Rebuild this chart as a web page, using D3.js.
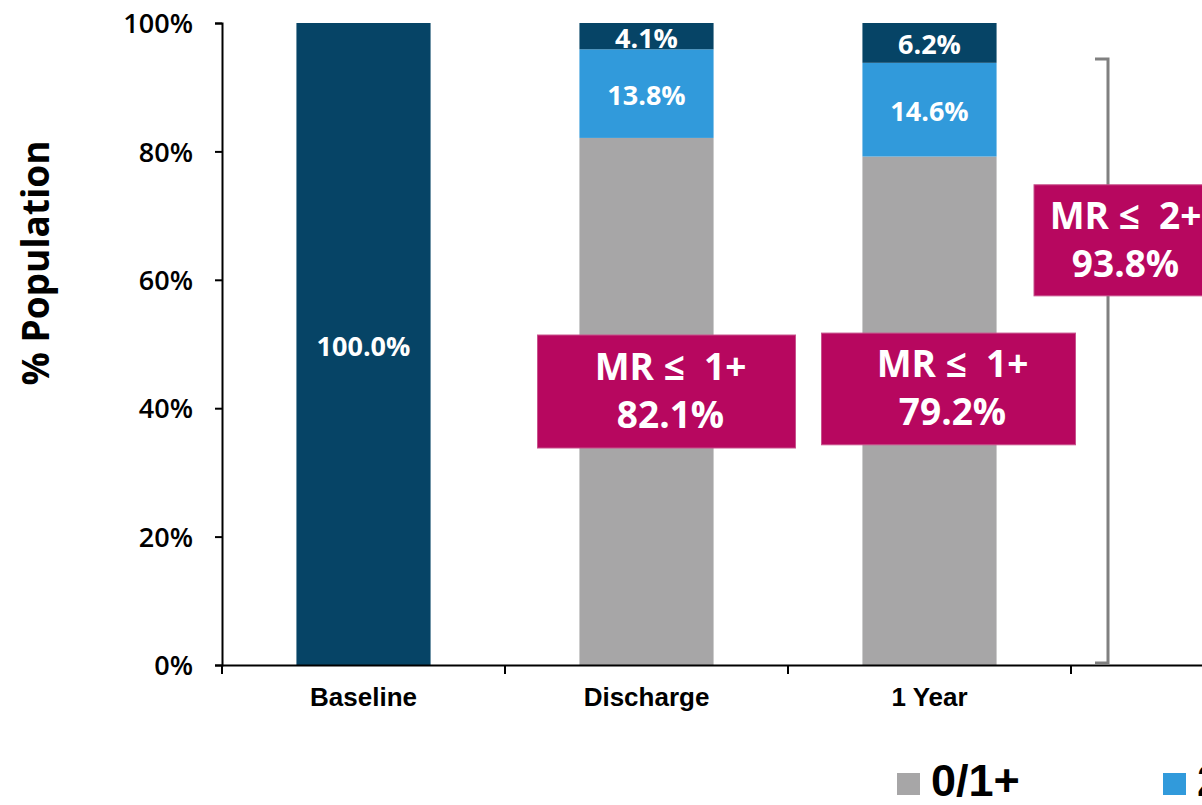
<!DOCTYPE html>
<html>
<head>
<meta charset="utf-8">
<script src="https://cdn.jsdelivr.net/npm/d3@7"></script>
<style>
    body { margin: 0; background: #fff; overflow: hidden; }
    svg { display: block; }
</style>
</head>
<body>
<div id="chart"></div>
<script>
// data
const categories = ["Baseline", "Discharge", "1 Year", ""];
const grades = ["0/1+", "2+", "3+/4+"];
const grade01 = [0, 82.1, 79.2];
const grade2 = [0, 13.8, 14.6];
const grade34 = [100, 4.1, 6.2];
const yTicks = [0, 20, 40, 60, 80, 100];
const legendShown = ["0/1+", "2+"]; // the rest is cropped off the picture

// call-out boxes: category, text lines, y range (value %)
const callouts = [
    { cat: "Discharge", dx: 20, w: 258, lines: ["MR \u2264\u00a0 1+", "82.1%"], top: 51.4, bottom: 33.8 },
    { cat: "1 Year", dx: 19, w: 254, lines: ["MR \u2264\u00a0 1+", "79.2%"], top: 51.7, bottom: 34.3 },
    { cat: "", dx: -91, w: 175, lines: ["MR \u2264\u00a0 2+", "93.8%"], top: 74.8, bottom: 57.5 }
];
const bracketTop = 94.4;

const width = 1202, height = 805;
const margin = { left: 222, top: 23, bottom: 140 };
const plotW = 283 * 4;

const colors = {
    "0/1+": "#a7a6a7",
    "2+": "#319adb",
    "3+/4+": "#064466"
};

const svg = d3.select("#chart")
    .append("svg")
    .attr("width", width)
    .attr("height", height);

const x = d3.scaleBand()
    .domain(categories)
    .range([margin.left, margin.left + plotW])
    .paddingInner(0.526)
    .paddingOuter(0.263);

const y = d3.scaleLinear()
    .domain([0, 100])
    .range([665, margin.top]);

// stacked data
const rows = categories.slice(0, 3).map((c, i) => ({
    cat: c,
    "0/1+": grade01[i],
    "2+": grade2[i],
    "3+/4+": grade34[i]
}));
const stack = d3.stack().keys(grades)(rows);

const layers = svg.append("g")
    .selectAll("g")
    .data(stack)
    .join("g")
    .attr("fill", d => colors[d.key]);

layers.selectAll("rect")
    .data(d => d.filter(s => s[1] - s[0] > 0))
    .join("rect")
    .attr("x", d => x(d.data.cat))
    .attr("width", x.bandwidth())
    .attr("y", d => y(d[1]))
    .attr("height", d => y(d[0]) - y(d[1]));

// segment labels
layers.selectAll("text")
    .data(d => d.filter(s => s[1] - s[0] > 0 && d.key !== "0/1+"))
    .join("text")
    .attr("x", d => x(d.data.cat) + x.bandwidth() / 2)
    .attr("y", d => (y(d[0]) + y(d[1])) / 2 + 1)
    .attr("text-anchor", "middle")
    .attr("dominant-baseline", "central")
    .attr("font-family", "'Open Sans', sans-serif")
    .attr("font-weight", 700)
    .attr("font-size", "27px")
    .attr("fill", "#fff")
    .text(d => (d[1] - d[0]).toFixed(1) + "%");

// y axis
const yAxis = svg.append("g")
    .attr("transform", `translate(${margin.left},0)`)
    .call(d3.axisLeft(y).tickValues(yTicks).tickSize(7).tickPadding(22).tickFormat(d => d + "%"));
yAxis.select(".domain").attr("stroke", "#000").attr("stroke-width", 2);
yAxis.selectAll(".tick line").attr("stroke", "#000").attr("stroke-width", 2);
yAxis.selectAll(".tick text")
    .attr("font-family", "'Open Sans', sans-serif")
    .attr("font-weight", 600)
    .attr("font-size", "27px")
    .attr("fill", "#000")
    .attr("dy", "0.36em");

// x axis
const xAxis = svg.append("g")
    .attr("transform", `translate(0,${y(0)})`)
    .call(d3.axisBottom(x).tickSize(0).tickPadding(23));
xAxis.select(".domain").attr("stroke", "#000").attr("stroke-width", 2);
xAxis.selectAll(".tick text")
    .attr("font-family", "'Liberation Sans', Arial, sans-serif")
    .attr("font-weight", 700)
    .attr("font-size", "26px")
    .attr("fill", "#000");

// category boundary ticks
svg.append("g")
    .selectAll("line")
    .data(d3.range(categories.length + 1))
    .join("line")
    .attr("x1", i => margin.left + i * x.step())
    .attr("x2", i => margin.left + i * x.step())
    .attr("y1", y(0))
    .attr("y2", y(0) + 9)
    .attr("stroke", "#000")
    .attr("stroke-width", 2);

// y title
svg.append("text")
    .attr("transform", `translate(34,${(y(0) + y(100)) / 2 - 81}) rotate(-90)`)
    .attr("text-anchor", "middle")
    .attr("dominant-baseline", "central")
    .attr("font-family", "'Open Sans', sans-serif")
    .attr("font-weight", 700)
    .attr("font-size", "37px")
    .attr("fill", "#000")
    .text("% Population");

// bracket for MR <= 2+
const bx = 1108;
svg.append("path")
    .attr("d", `M${bx - 13},${y(bracketTop)} H${bx} V${y(0) - 2} H${bx - 13}`)
    .attr("fill", "none")
    .attr("stroke", "#808080")
    .attr("stroke-width", 3);

// call-out boxes
const boxes = svg.append("g")
    .selectAll("g")
    .data(callouts)
    .join("g")
    .attr("transform", d => {
        const cx = x(d.cat) + x.bandwidth() / 2 + d.dx;
        return `translate(${cx},0)`;
    });

boxes.append("rect")
    .attr("x", d => -d.w / 2)
    .attr("width", d => d.w)
    .attr("y", d => y(d.top))
    .attr("height", d => y(d.bottom) - y(d.top))
    .attr("fill", "#b7075f")
    .attr("stroke", "#c8528c")
    .attr("stroke-width", 1);

boxes.each(function (d) {
    const mid = (y(d.top) + y(d.bottom)) / 2;
    d3.select(this).selectAll("text")
        .data(d.lines)
        .join("text")
        .attr("x", 4)
        .attr("y", (t, i) => mid + (i === 0 ? -26 : 22))
        .attr("text-anchor", "middle")
        .attr("dominant-baseline", "central")
        .attr("font-family", "'Open Sans', sans-serif")
        .attr("font-weight", 700)
        .attr("font-size", "37px")
        .attr("fill", "#fff")
        .text(t => t);
});

// legend
const legend = svg.append("g")
    .selectAll("g")
    .data(legendShown)
    .join("g")
    .attr("transform", (d, i) => `translate(${897 + i * 266},773)`);

legend.append("rect")
    .attr("width", 23)
    .attr("height", 22)
    .attr("fill", d => colors[d]);

legend.append("text")
    .attr("x", 34)
    .attr("y", 23)
    .attr("font-family", "'Liberation Sans', Arial, sans-serif")
    .attr("font-weight", 700)
    .attr("font-size", "45px")
    .attr("fill", "#000")
    .text(d => d);
</script>
</body>
</html>
